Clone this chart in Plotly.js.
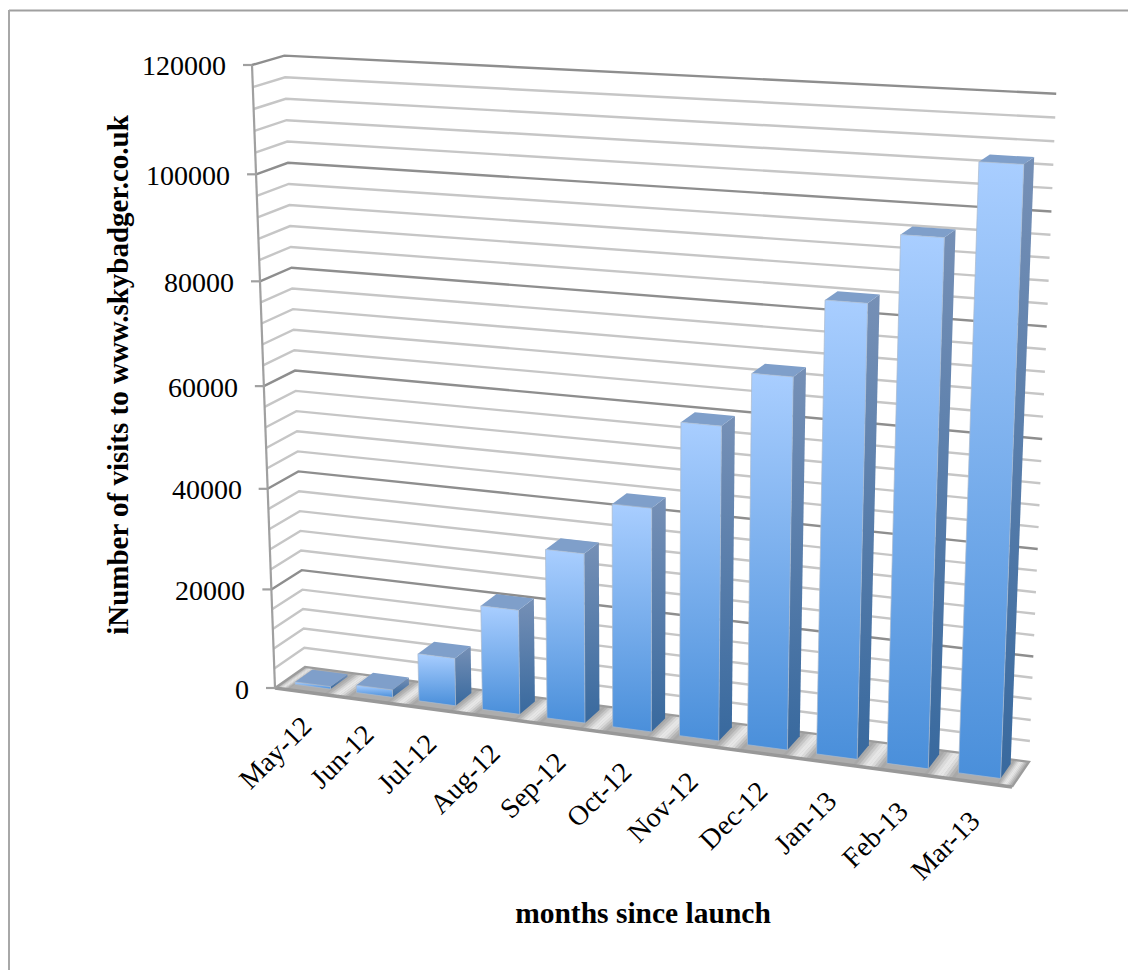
<!DOCTYPE html>
<html>
<head>
<meta charset="utf-8">
<script src="https://cdn.plot.ly/plotly-3.0.1.min.js"></script>
<style>html,body{margin:0;padding:0;background:#fff}#chart{width:1128px;height:970px}</style>
</head>
<body>
<div id="chart"></div>
<script>
// Monthly visits to www.skybadger.co.uk
const months = ['May-12','Jun-12','Jul-12','Aug-12','Sep-12','Oct-12','Nov-12','Dec-12','Jan-13','Feb-13','Mar-13'];
const visits = [500, 1500, 9500, 20600, 33050, 43100, 59650, 69750, 83900, 96250, 109500];
const majorTicks = [0, 20000, 40000, 60000, 80000, 100000, 120000];
const minorStep = 4000;
const axisMax = 120000;

const FONT = '"Liberation Serif", serif';

// Perspective camera for the 3D box: x along months, y up the value axis, z into the page.
const O = [275, 688], X = [1012, 787], Y = [252, 65], Z = [305, 667];
const a = 0.91, b = 0.94, c = 1.02;
function project(x, y, z) {
  const d = 1 + (a - 1) * x + (b - 1) * y + (c - 1) * z;
  return [0, 1].map(k =>
    (O[k] + x * (a * X[k] - O[k]) + y * (b * Y[k] - O[k]) + z * (c * Z[k] - O[k])) / d);
}
const P = (x, v, z) => project(x, v / axisMax, z);

function polygon(points, fill, gradient, edge) {
  const t = {
    type: 'scatter', mode: 'lines', fill: 'toself', hoverinfo: 'skip',
    x: points.map(p => p[0]).concat(points[0][0]),
    y: points.map(p => p[1]).concat(points[0][1]),
    line: edge || {width: 0, color: 'rgba(0,0,0,0)'},
    showlegend: false
  };
  if (gradient) t.fillgradient = gradient; else t.fillcolor = fill;
  return t;
}
function polyline(segments, color, width) {
  const xs = [], ys = [];
  segments.forEach(s => { s.forEach(p => { xs.push(p[0]); ys.push(p[1]); }); xs.push(null); ys.push(null); });
  return {type: 'scatter', mode: 'lines', x: xs, y: ys, hoverinfo: 'skip',
          showlegend: false, line: {color: color, width: width}};
}

const n = months.length;
const barLeft = i => (i + 0.205) / n;
const barRight = i => (i + 0.785) / n;
const zFront = 0.25, zBack = 0.83;
const traces = [];

// Floor: a glint slanting with the depth direction runs through each gap between bars
traces.push(polygon([P(0,0,0), P(1,0,0), P(1,0,1), P(0,0,1)], '#adadad'));
const glintSlices = 10;
const glintGrey = t => Math.round(166 + 66 * Math.pow(Math.sin(Math.PI * t), 2));
for (let i = -1; i < n; i++) {
  const from = i < 0 ? 0 : barRight(i), to = i === n - 1 ? 1 : barLeft(i + 1);
  for (let s = 0; s < glintSlices; s++) {
    const u0 = from + (to - from) * s / glintSlices;
    const u1 = from + (to - from) * (s + 1) / glintSlices + 0.0004;
    const g = glintGrey((s + 0.5) / glintSlices);
    traces.push(polygon([P(u0,0,0), P(u1,0,0), P(u1,0,1), P(u0,0,1)], `rgb(${g},${g},${g})`));
  }
}
traces.push(polyline([[P(0,0,0), P(1,0,0)]], '#989898', 3.5));
traces.push(polyline([[P(1,0,0), P(1,0,1), P(0,0,1), P(0,0,0)]], '#9c9c9c', 2.2));

// Gridlines run along the side wall and then across the back wall
const wall = v => [P(0,v,0), P(0,v,1), P(1,v,1)];
const minorLines = [], majorLines = [];
for (let v = minorStep; v < axisMax; v += minorStep) {
  if (v % majorTicks[1] !== 0) minorLines.push(wall(v));
}
majorTicks.slice(1).forEach(v => majorLines.push(wall(v)));
traces.push(polyline(minorLines, '#c6c6c6', 2.4));
traces.push(polyline(majorLines, '#8e8e8e', 2.4));

// One cuboid per month
visits.forEach((v, i) => {
  const l = barLeft(i), r = barRight(i);
  traces.push(polygon([P(r,0,zFront), P(r,0,zBack), P(r,v,zBack), P(r,v,zFront)], null,
    {type: 'vertical', colorscale: [[0,'#38699e'],[1,'#7690b6']]}));
  traces.push(polygon([P(l,v,zFront), P(r,v,zFront), P(r,v,zBack), P(l,v,zBack)], '#7f9fca'));
  traces.push(polygon([P(l,0,zFront), P(r,0,zFront), P(r,v,zFront), P(l,v,zFront)], null,
    {type: 'vertical', colorscale: [[0,'#4a8fda'],[1,'#a9ceff']]},
    {width: 1, color: 'rgba(170,185,205,0.7)'}));
});

// Value axis line with its tick marks, carried by the axis pair that holds the titles
const tickMarks = majorTicks.map(v => { const p = P(0,v,0); return [[p[0]-9, p[1]], p]; });
const axisTrace = polyline([[P(0,0,0), P(0,axisMax,0)]].concat(tickMarks), '#a0a0a0', 2.2);
axisTrace.xaxis = 'x2';
axisTrace.yaxis = 'y2';
traces.push(axisTrace);

// Month labels sit on the front edge of the floor, slanted
const monthLabels = months.map((m, i) => {
  const u = (i + 0.5) / n, p = P(u, 0, 0);
  return {text: m, xref: 'paper', yref: 'paper',
          x: (p[0] + 15 - 2 * u) / 1128, y: 1 - (p[1] + 15 + 6 * u) / 970,
          xanchor: 'right', yanchor: 'top', textangle: -45, showarrow: false,
          font: {family: FONT, size: 28, color: '#000'}};
});
// Value labels follow the slanted axis line
const valueLabels = majorTicks.map(v => {
  const p = P(0, v, 0);
  return {text: String(v), xref: 'paper', yref: 'paper',
          x: (p[0] - 24) / 1128, y: 1 - (p[1] + 1) / 970,
          xanchor: 'right', yanchor: 'middle', showarrow: false,
          font: {family: FONT, size: 28, color: '#000'}};
});

const hidden = {showgrid: false, zeroline: false, showline: false, ticks: '', showticklabels: false};
const layout = {
  width: 1128, height: 970, margin: {l: 0, r: 0, t: 0, b: 0, pad: 0},
  paper_bgcolor: '#fff', plot_bgcolor: 'rgba(0,0,0,0)', showlegend: false,
  // Full-page axes in screen units for the projected box
  xaxis: Object.assign({domain: [0, 1], range: [0, 1128]}, hidden),
  yaxis: Object.assign({domain: [0, 1], range: [970, 0]}, hidden),
  // Same screen mapping, narrower domains so the titles centre where they belong
  xaxis2: Object.assign({domain: [158/1128, 1], range: [158, 1128], anchor: 'y2'}, hidden, {
    title: {text: 'months since launch', standoff: 152,
            font: {family: FONT, size: 29.5, weight: 700, color: '#000'}}}),
  yaxis2: Object.assign({domain: [220/970, 1], range: [750, 0], anchor: 'free', position: 228/1128}, hidden, {
    title: {text: 'iNumber of visits to www.skybadger.co.uk', standoff: 89,
            font: {family: FONT, size: 29, weight: 700, color: '#000'}}}),
  annotations: monthLabels.concat(valueLabels),
  shapes: [
    {type: 'line', xref: 'paper', yref: 'paper', x0: 9/1128, x1: 1, y0: 1-10.5/970, y1: 1-10.5/970, line: {color: '#a0a0a0', width: 2}},
    {type: 'line', xref: 'paper', yref: 'paper', x0: 9/1128, x1: 9/1128, y0: 1-10/970, y1: 0, line: {color: '#a8a8a8', width: 2}}
  ]
};
Plotly.newPlot('chart', traces, layout, {displayModeBar: false, staticPlot: true});
</script>
</body>
</html>
